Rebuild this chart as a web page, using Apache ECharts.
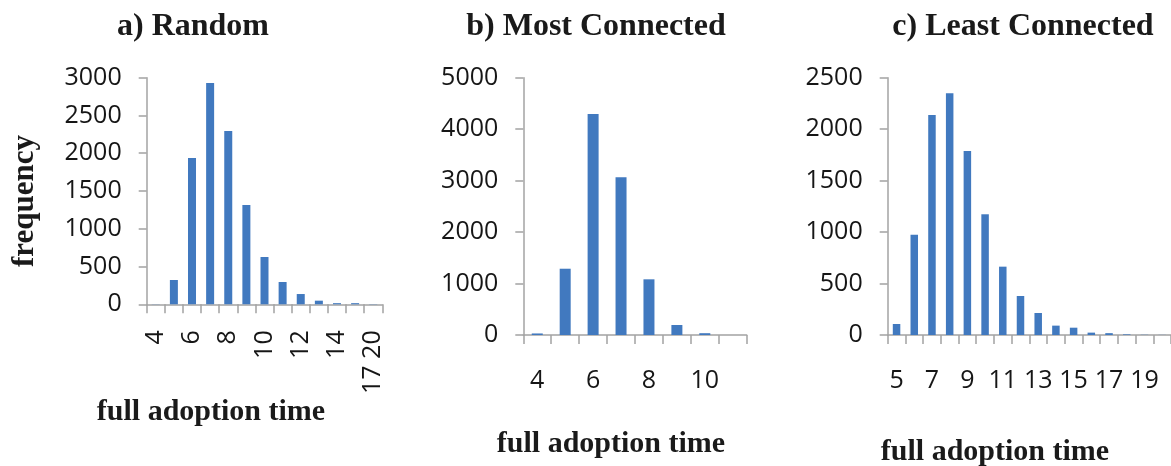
<!DOCTYPE html>
<html>
<head>
<meta charset="utf-8">
<script src="https://cdn.jsdelivr.net/npm/echarts@6/dist/echarts.min.js"></script>
<style>
  html, body { margin: 0; padding: 0; background: #fff; }
  #chart { width: 1171px; height: 466px; }
</style>
</head>
<body>
<div id="chart"></div>
<script>
// Frequency of full adoption time under three seeding strategies
const catsRandom = ['4', '5', '6', '7', '8', '9', '10', '11', '12', '13', '14', '15', '17 20'];
const freqRandom = [2, 322, 1937, 2930, 2294, 1315, 626, 295, 136, 48, 15, 15, 3];

const catsMost = ['4', '5', '6', '7', '8', '9', '10', '11'];
const freqMost = [30, 1288, 4295, 3064, 1082, 194, 35, 0];

const catsLeast = ['5', '6', '7', '8', '9', '10', '11', '12', '13', '14', '15', '16', '17', '18', '19', '20'];
const freqLeast = [107, 975, 2138, 2348, 1788, 1173, 664, 379, 214, 91, 71, 23, 18, 6, 2, 1];

const panelTitles = ['a) Random', 'b) Most Connected', 'c) Least Connected'];
const xName = 'full adoption time';
const yName = 'frequency';

const axisGray = '#a3a3a3';
const barBlue = '#4179bf';
const tickFamily = "'Open Sans', 'DejaVu Sans', sans-serif";
const tickSize = 25;
const serifBold = 'Liberation Serif';

const grids = [
  { left: 146.7, top: 77.7, width: 235.6, height: 226.6 },
  { left: 523.3, top: 77.7, width: 223.4, height: 257.3 },
  { left: 887.7, top: 77.7, width: 290.7, height: 257.3 }
];

function xAxisFor(i, cats, rotate) {
  return {
    type: 'category', gridIndex: i, data: cats,
    boundaryGap: true,
    axisLine: { show: true, lineStyle: { color: axisGray, width: 1.5 } },
    axisTick: { show: true, interval: 0, length: 9, lineStyle: { color: axisGray, width: 1.5 } },
    axisLabel: {
      interval: 1, rotate: rotate, margin: rotate ? 26 : 33,
      fontFamily: tickFamily, fontSize: tickSize, color: '#161616'
    },
    splitLine: { show: false }
  };
}
function yAxisFor(i, max, step) {
  return {
    type: 'value', gridIndex: i, min: 0, max: max, interval: step,
    axisLine: { show: true, lineStyle: { color: axisGray, width: 1.5 } },
    axisTick: { show: true, length: 8, lineStyle: { color: axisGray, width: 1.5 } },
    axisLabel: {
      margin: 25, formatter: function (v) { return String(v); },
      fontFamily: tickFamily, fontSize: tickSize, color: '#161616'
    },
    splitLine: { show: false }
  };
}
function barsFor(i, values, width) {
  return {
    type: 'bar', xAxisIndex: i, yAxisIndex: i, data: values,
    barWidth: width, itemStyle: { color: barBlue }, silent: true
  };
}

function label(text, x, y, size, rot) {
  return {
    type: 'text', x: x, y: y, rotation: rot || 0,
    style: {
      text: text, fontFamily: serifBold, fontWeight: 'bold', fontSize: size,
      fill: '#1a1a1a', align: 'center', verticalAlign: 'middle'
    }
  };
}

const chart = echarts.init(document.getElementById('chart'), null, { renderer: 'canvas' });
chart.setOption({
  animation: false,
  backgroundColor: '#ffffff',
  grid: grids,
  xAxis: [
    xAxisFor(0, catsRandom, 90),
    xAxisFor(1, catsMost, 0),
    xAxisFor(2, catsLeast, 0)
  ],
  yAxis: [
    yAxisFor(0, 3000, 500),
    yAxisFor(1, 5000, 1000),
    yAxisFor(2, 2500, 500)
  ],
  series: [
    barsFor(0, freqRandom, 8),
    barsFor(1, freqMost, 11),
    barsFor(2, freqLeast, 7.5)
  ],
  graphic: [
    label(panelTitles[0], 193, 27, 32),
    label(panelTitles[1], 596, 27, 32),
    label(panelTitles[2], 1023, 27, 32),
    label(yName, 25, 201, 31, Math.PI / 2),
    label(xName, 211, 412, 30),
    label(xName, 611, 444, 30),
    label(xName, 995, 452, 30)
  ]
});
</script>
</body>
</html>
